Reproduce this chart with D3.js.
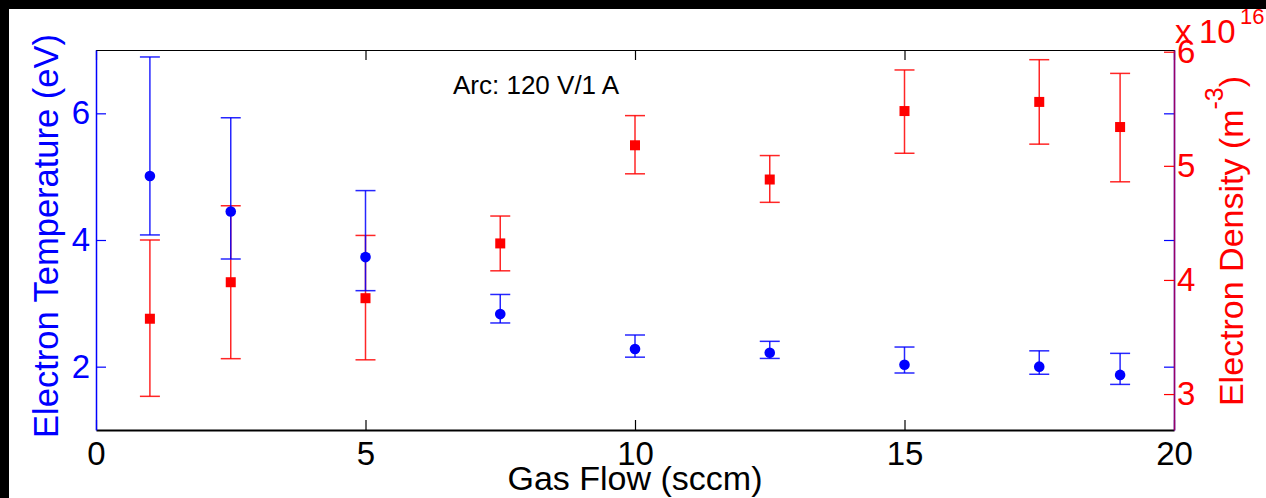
<!DOCTYPE html>
<html>
<head>
<meta charset="utf-8">
<script src="https://cdn.jsdelivr.net/npm/d3@7"></script>
<style>
  body { margin: 0; background: #000; overflow: hidden; }
  svg { display: block; font-family: "Liberation Sans", Arial, sans-serif; }
</style>
</head>
<body>
<svg id="chart" width="1266" height="498"></svg>
<script>
// Gas flow (sccm) for each measurement
const flow = [1, 2.5, 5, 7.5, 10, 12.5, 15, 17.5, 19];

// Electron temperature (eV): mean, upper and lower error limits
const teMean  = [5.01, 4.45, 3.73, 2.83, 2.28, 2.22, 2.03, 2.00, 1.87];
const teUpper = [6.89, 5.93, 4.78, 3.14, 2.50, 2.40, 2.31, 2.25, 2.21];
const teLower = [4.08, 3.70, 3.20, 2.69, 2.15, 2.13, 1.90, 1.88, 1.72];

// Electron density (x 1e16 m^-3): mean, upper and lower error limits
const neMean  = [3.66, 3.98, 3.84, 4.32, 5.18, 4.88, 5.48, 5.56, 5.34];
const neUpper = [4.35, 4.65, 4.39, 4.56, 5.44, 5.09, 5.84, 5.93, 5.81];
const neLower = [2.98, 3.31, 3.30, 4.08, 4.93, 4.68, 5.11, 5.19, 4.86];

// Tick labels
const xTicks = [0, 5, 10, 15, 20];
const leftTicks = [2, 4, 6];
const rightTicks = [3, 4, 5, 6];

const BLUE = "#0000ff";
const RED = "#ff0000";

const plot = { left: 96, right: 1174, top: 50, bottom: 430 };

const svg = d3.select("#chart");
const fmt = d3.format("d");

// white figure area (black band on top and left)
svg.append("rect")
    .attr("x", 9).attr("y", 9)
    .attr("width", 1266 - 9).attr("height", 498 - 9)
    .attr("fill", "#fff");

const x = d3.scaleLinear().domain([0, 20]).range([plot.left, plot.right]);
const yT = d3.scaleLinear().domain([1, 7]).range([plot.bottom, plot.top]);
const yN = d3.scaleLinear().domain([2.685, 6.015]).range([plot.bottom, plot.top]);

const teData = flow.map((f, i) => ({ f: f, m: teMean[i], hi: teUpper[i], lo: teLower[i] }));
const neData = flow.map((f, i) => ({ f: f, m: neMean[i], hi: neUpper[i], lo: neLower[i] }));

function styleAxis(g, color, fontSize) {
    g.selectAll("path").attr("stroke", color).attr("stroke-width", 1.5);
    g.selectAll("line").attr("stroke", color).attr("stroke-width", 1.2);
    g.selectAll("text").attr("fill", color).style("font-size", fontSize + "px")
        .style("font-family", "'Liberation Sans', Arial, sans-serif");
}

// top border with ticks, no labels
svg.append("g")
    .attr("transform", `translate(0,${plot.top})`)
    .call(d3.axisTop(x).tickValues(xTicks).tickSizeInner(-10).tickSizeOuter(0).tickFormat(""))
    .call(g => styleAxis(g, "#000", 33))
    .call(g => g.select("path").attr("stroke-width", 1.2));

// bottom axis
svg.append("g")
    .attr("transform", `translate(0,${plot.bottom})`)
    .call(d3.axisBottom(x).tickValues(xTicks).tickSizeInner(-10).tickSizeOuter(0).tickPadding(12).tickFormat(fmt))
    .call(g => styleAxis(g, "#000", 33))
    .call(g => g.select("path").attr("stroke-width", 2));

// left axis (temperature)
svg.append("g")
    .attr("transform", `translate(${plot.left},0)`)
    .call(d3.axisLeft(yT).tickValues(leftTicks).tickSizeInner(-10).tickSizeOuter(0).tickPadding(6).tickFormat(fmt))
    .call(g => styleAxis(g, BLUE, 33));

// right axis: blue ticks from the left scale, then red density axis on top
svg.append("g")
    .attr("transform", `translate(${plot.right},0)`)
    .call(d3.axisRight(yT).tickValues(leftTicks).tickSizeInner(-10).tickSizeOuter(0).tickFormat(""))
    .call(g => styleAxis(g, BLUE, 33));

svg.append("g")
    .attr("transform", `translate(${plot.right},0)`)
    .call(d3.axisRight(yN).tickValues(rightTicks).tickSizeInner(-10).tickSizeOuter(0).tickPadding(3).tickFormat(fmt))
    .call(g => styleAxis(g, RED, 33))
    .call(g => g.select("path").attr("stroke-opacity", 0.6));

// error bars with caps
function drawErrorBars(data, yScale, color) {
    const g = svg.append("g")
        .attr("stroke", color)
        .attr("stroke-width", 1.5)
        .attr("stroke-opacity", 0.85);
    g.selectAll("line.v").data(data).join("line")
        .attr("class", "v")
        .attr("x1", d => x(d.f)).attr("x2", d => x(d.f))
        .attr("y1", d => yScale(d.hi)).attr("y2", d => yScale(d.lo));
    g.selectAll("line.hi").data(data).join("line")
        .attr("class", "hi")
        .attr("x1", d => x(d.f) - 10).attr("x2", d => x(d.f) + 10)
        .attr("y1", d => yScale(d.hi)).attr("y2", d => yScale(d.hi));
    g.selectAll("line.lo").data(data).join("line")
        .attr("class", "lo")
        .attr("x1", d => x(d.f) - 10).attr("x2", d => x(d.f) + 10)
        .attr("y1", d => yScale(d.lo)).attr("y2", d => yScale(d.lo));
}

drawErrorBars(neData, yN, RED);
svg.append("g").selectAll("rect").data(neData).join("rect")
    .attr("x", d => x(d.f) - 5)
    .attr("y", d => yN(d.m) - 5)
    .attr("width", 10).attr("height", 10)
    .attr("fill", RED);

drawErrorBars(teData, yT, BLUE);
svg.append("g").selectAll("circle").data(teData).join("circle")
    .attr("cx", d => x(d.f))
    .attr("cy", d => yT(d.m))
    .attr("r", 5.3)
    .attr("fill", BLUE);

// annotation
svg.append("text")
    .attr("x", 453).attr("y", 94)
    .style("font-size", "26px")
    .attr("fill", "#000")
    .text("Arc: 120 V/1 A");

// axis titles
svg.append("text")
    .attr("x", (plot.left + plot.right) / 2).attr("y", 490)
    .attr("text-anchor", "middle")
    .style("font-size", "34px")
    .attr("fill", "#000")
    .text("Gas Flow (sccm)");

svg.append("text")
    .attr("transform", "translate(58,236) rotate(-90)")
    .attr("text-anchor", "middle")
    .style("font-size", "34.5px")
    .attr("fill", BLUE)
    .text("Electron Temperature (eV)");

const rightTitle = svg.append("text")
    .attr("transform", "translate(1243,241) rotate(-90)")
    .attr("text-anchor", "middle")
    .style("font-size", "34px")
    .attr("fill", RED);
rightTitle.append("tspan").text("Electron Density (m");
rightTitle.append("tspan").attr("dy", -20).style("font-size", "25px").text("-3");
rightTitle.append("tspan").attr("dy", 20).text(")");

// exponent label above the right axis
const expo = svg.append("text")
    .attr("x", 1175).attr("y", 43)
    .attr("fill", RED)
    .style("font-size", "33px");
expo.append("tspan").text("x");
expo.append("tspan").attr("x", 1199).text("10");
expo.append("tspan").attr("x", 1240).attr("y", 24).style("font-size", "22px").text("16");
</script>
</body>
</html>
